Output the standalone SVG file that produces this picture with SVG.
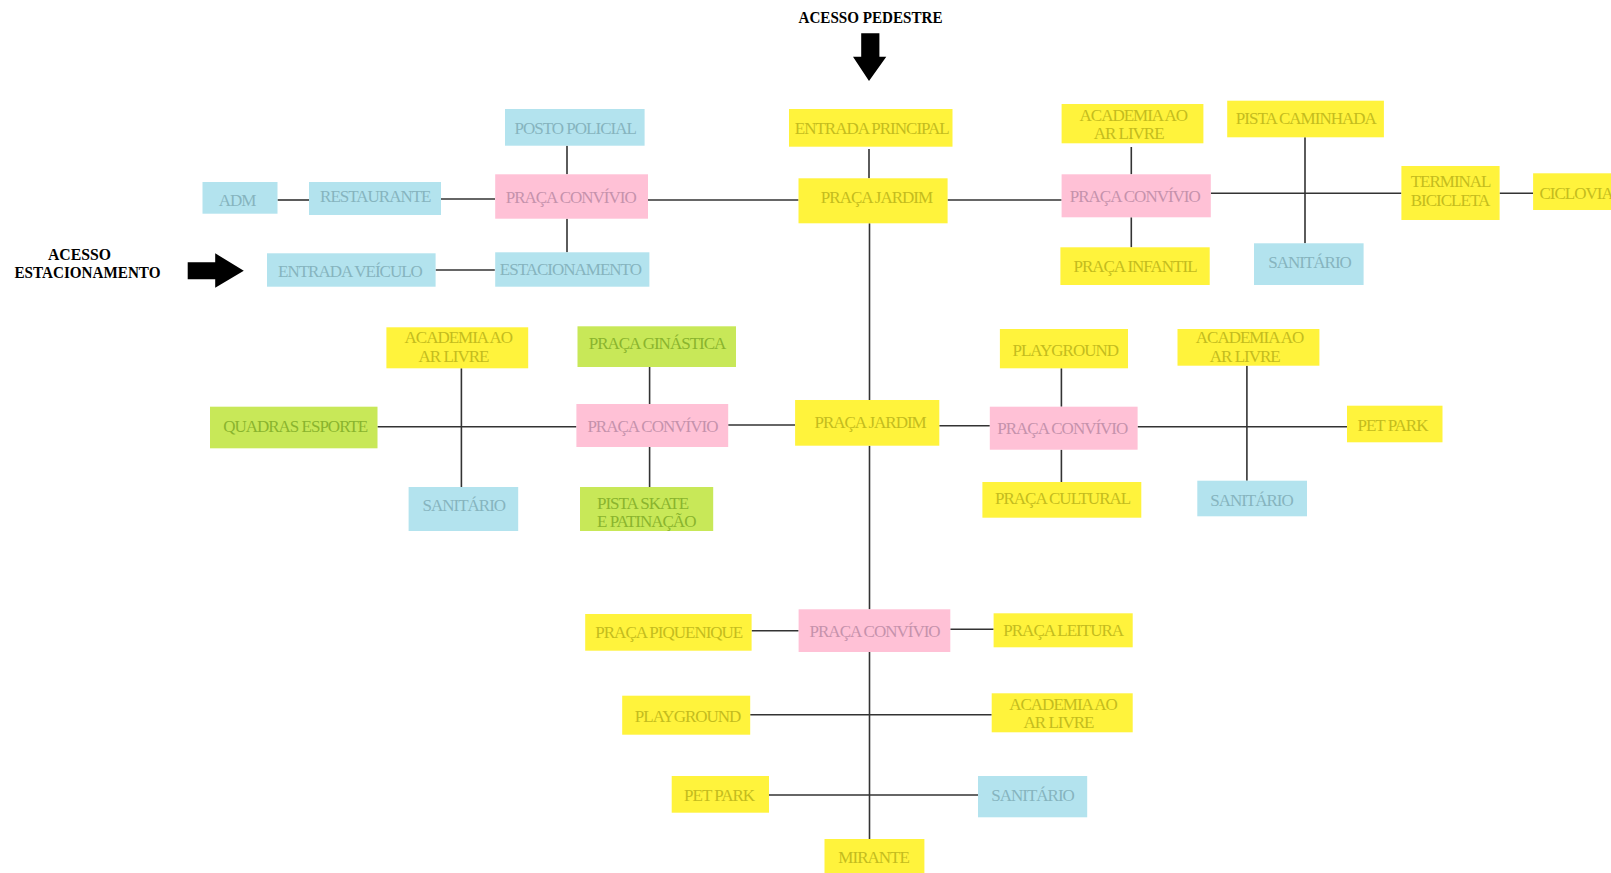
<svg xmlns="http://www.w3.org/2000/svg" width="1611" height="873" viewBox="0 0 1611 873">
<style>
.b{fill:#B3E3EE}.y{fill:#FFF33C}.p{fill:#FFC1D6}.g{fill:#C8E858}
text{font-family:"Liberation Serif","Times New Roman",serif;font-size:17px;letter-spacing:-1px;text-anchor:middle}
.tb{fill:#86B4BE}.ty{fill:#C4BC1E}.tp{fill:#C592AC}.tg{fill:#8AB42E}
.lbl{font-weight:bold;fill:#000;letter-spacing:0}
.c line{stroke:#333;stroke-width:1.6}
</style>
<rect width="1611" height="873" fill="#fff"/>
<g id="labels">
<text class="lbl" x="870.5" y="22.7" textLength="144" lengthAdjust="spacingAndGlyphs">ACESSO PEDESTRE</text>
<text class="lbl" x="79.5" y="260" textLength="63" lengthAdjust="spacingAndGlyphs">ACESSO</text>
<text class="lbl" x="87.5" y="278.3" textLength="146" lengthAdjust="spacingAndGlyphs">ESTACIONAMENTO</text>
<polygon points="861.2,33.3 879.4,33.3 879.4,56.7 886.3,56.7 869,81 853,56.7 861.2,56.7" fill="#000"/>
<polygon points="187.7,262.3 215.2,262.3 215.2,253.3 243.8,270.7 215.2,287.7 215.2,279.3 187.7,279.3" fill="#000"/>
</g>
<g class="c" id="connectors">
<line x1="277.5" y1="200" x2="309" y2="200"/>
<line x1="441" y1="199" x2="495" y2="199"/>
<line x1="567" y1="145.7" x2="567" y2="174.3"/>
<line x1="567" y1="218.7" x2="567" y2="252.3"/>
<line x1="435.6" y1="270" x2="494.8" y2="270"/>
<line x1="648" y1="200" x2="798.5" y2="200"/>
<line x1="869" y1="149" x2="869" y2="178.3"/>
<line x1="947.6" y1="200" x2="1061.6" y2="200"/>
<line x1="1131.3" y1="147" x2="1131.3" y2="174.3"/>
<line x1="1131.3" y1="217.3" x2="1131.3" y2="247.3"/>
<line x1="1210.8" y1="193.3" x2="1401.4" y2="193.3"/>
<line x1="1305" y1="137.3" x2="1305" y2="243.3"/>
<line x1="1499.6" y1="193.3" x2="1533.1" y2="193.3"/>
<line x1="869.5" y1="223.3" x2="869.5" y2="400"/>
<line x1="869.5" y1="445.7" x2="869.5" y2="609.3"/>
<line x1="869.5" y1="652" x2="869.5" y2="839"/>
<line x1="728.2" y1="425" x2="795.1" y2="425"/>
<line x1="939.3" y1="425.7" x2="989.8" y2="425.7"/>
<line x1="377.5" y1="426.7" x2="576.4" y2="426.7"/>
<line x1="461.4" y1="368.3" x2="461.4" y2="487"/>
<line x1="649.6" y1="367" x2="649.6" y2="404"/>
<line x1="649.6" y1="447" x2="649.6" y2="487"/>
<line x1="1061.4" y1="368.3" x2="1061.4" y2="406.7"/>
<line x1="1061.4" y1="449.7" x2="1061.4" y2="482"/>
<line x1="1137.6" y1="426.7" x2="1347" y2="426.7"/>
<line x1="1246.9" y1="365.7" x2="1246.9" y2="480.7"/>
<line x1="751.6" y1="630.7" x2="798.6" y2="630.7"/>
<line x1="950.3" y1="629.3" x2="993.6" y2="629.3"/>
<line x1="750.2" y1="714.7" x2="991.7" y2="714.7"/>
<line x1="769" y1="795" x2="978" y2="795"/>
</g>
<g id="adm"><rect class="b" x="202.5" y="182" width="75" height="31.7"/><text class="tb" x="237" y="206">ADM</text></g>
<g id="restaurante"><rect class="b" x="309" y="182" width="132" height="33"/><text class="tb" x="375.3" y="202">RESTAURANTE</text></g>
<g id="posto-policial"><rect class="b" x="505" y="109" width="139.6" height="36.7"/><text class="tb" x="575.2" y="134">POSTO POLICIAL</text></g>
<g id="praca-convivio-1"><rect class="p" x="495.2" y="174.3" width="152.8" height="44.4"/><text class="tp" x="570.7" y="203.3">PRAÇA CONVÍVIO</text></g>
<g id="estacionamento"><rect class="b" x="495.2" y="252.3" width="154.2" height="34.4"/><text class="tb" x="570.4" y="275">ESTACIONAMENTO</text></g>
<g id="entrada-veiculo"><rect class="b" x="267" y="253.3" width="168.6" height="33.4"/><text class="tb" x="350" y="277.3">ENTRADA VEÍCULO</text></g>
<g id="entrada-principal"><rect class="y" x="789" y="109" width="163.5" height="37.7"/><text class="ty" x="871.7" y="134">ENTRADA PRINCIPAL</text></g>
<g id="praca-jardim-1"><rect class="y" x="798.5" y="178.3" width="149.1" height="45"/><text class="ty" x="876.5" y="203.3">PRAÇA JARDIM</text></g>
<g id="academia-1"><rect class="y" x="1061.6" y="104" width="141.8" height="39.3"/><text class="ty" x="1133.3" y="120.7">ACADEMIA AO</text><text class="ty" x="1128.6" y="139.3">AR LIVRE</text></g>
<g id="pista-caminhada"><rect class="y" x="1227.2" y="100.7" width="156.7" height="36.6"/><text class="ty" x="1305.8" y="124">PISTA CAMINHADA</text></g>
<g id="praca-convivio-2"><rect class="p" x="1061.6" y="174.3" width="149.2" height="43"/><text class="tp" x="1134.8" y="201.7">PRAÇA CONVÍVIO</text></g>
<g id="praca-infantil"><rect class="y" x="1060.4" y="247.3" width="149.3" height="37.7"/><text class="ty" x="1135" y="271.7">PRAÇA INFANTIL</text></g>
<g id="sanitario-1"><rect class="b" x="1254" y="243.3" width="109.6" height="41.7"/><text class="tb" x="1309.6" y="268.3">SANITÁRIO</text></g>
<g id="terminal-bicicleta"><rect class="y" x="1401.4" y="166" width="98.2" height="54"/><text class="ty" x="1450.6" y="187.3">TERMINAL</text><text class="ty" x="1450" y="206">BICICLETA</text></g>
<g id="ciclovia"><rect class="y" x="1533.1" y="173.3" width="78" height="36.7"/><text class="ty" x="1539.5" y="199" style="text-anchor:start">CICLOVIA</text></g>
<g id="academia-2"><rect class="y" x="386.4" y="327.3" width="141.8" height="41"/><text class="ty" x="458.3" y="343.3">ACADEMIA AO</text><text class="ty" x="453.5" y="361.7">AR LIVRE</text></g>
<g id="quadras-esporte"><rect class="g" x="210" y="406.7" width="167.5" height="41.6"/><text class="tg" x="295.2" y="432.3">QUADRAS ESPORTE</text></g>
<g id="sanitario-2"><rect class="b" x="408.6" y="487" width="109.6" height="44"/><text class="tb" x="463.8" y="510.7">SANITÁRIO</text></g>
<g id="praca-ginastica"><rect class="g" x="577.5" y="326.3" width="158.5" height="40.7"/><text class="tg" x="657" y="349.3">PRAÇA GINÁSTICA</text></g>
<g id="praca-convivio-3"><rect class="p" x="576.4" y="404" width="151.8" height="43"/><text class="tp" x="652.4" y="431.7">PRAÇA CONVÍVIO</text></g>
<g id="pista-skate"><rect class="g" x="580" y="487" width="133.2" height="44"/><text class="tg" x="597" y="509" style="text-anchor:start">PISTA SKATE</text><text class="tg" x="597" y="526.7" style="text-anchor:start">E PATINAÇÃO</text></g>
<g id="praca-jardim-2"><rect class="y" x="795.1" y="400" width="144.2" height="45.7"/><text class="ty" x="870.1" y="428.3">PRAÇA JARDIM</text></g>
<g id="playground-1"><rect class="y" x="999.9" y="329" width="128.1" height="39.3"/><text class="ty" x="1065.3" y="356">PLAYGROUND</text></g>
<g id="praca-convivio-4"><rect class="p" x="989.8" y="406.7" width="147.8" height="43"/><text class="tp" x="1062.3" y="434.3">PRAÇA CONVÍVIO</text></g>
<g id="praca-cultural"><rect class="y" x="982.4" y="482" width="158.9" height="35.7"/><text class="ty" x="1062.6" y="504">PRAÇA CULTURAL</text></g>
<g id="academia-3"><rect class="y" x="1177.5" y="329" width="141.9" height="36.7"/><text class="ty" x="1249.6" y="343.3">ACADEMIA AO</text><text class="ty" x="1244.8" y="361.7">AR LIVRE</text></g>
<g id="sanitario-3"><rect class="b" x="1197.3" y="480.7" width="109.7" height="35.6"/><text class="tb" x="1251.5" y="505.7">SANITÁRIO</text></g>
<g id="pet-park-1"><rect class="y" x="1347" y="405.7" width="95.5" height="36.6"/><text class="ty" x="1392.5" y="430.7">PET PARK</text></g>
<g id="praca-convivio-5"><rect class="p" x="798.6" y="609.3" width="151.7" height="42.7"/><text class="tp" x="874.6" y="636.7">PRAÇA CONVÍVIO</text></g>
<g id="praca-piquenique"><rect class="y" x="585.2" y="614" width="166.4" height="36.7"/><text class="ty" x="668.8" y="638.3">PRAÇA PIQUENIQUE</text></g>
<g id="praca-leitura"><rect class="y" x="993.6" y="613.3" width="139.1" height="34"/><text class="ty" x="1063.2" y="636">PRAÇA LEITURA</text></g>
<g id="playground-2"><rect class="y" x="622.2" y="695.7" width="128" height="39"/><text class="ty" x="687.6" y="722.3">PLAYGROUND</text></g>
<g id="academia-4"><rect class="y" x="991.7" y="693.3" width="141" height="39"/><text class="ty" x="1063" y="710">ACADEMIA AO</text><text class="ty" x="1058.5" y="728.3">AR LIVRE</text></g>
<g id="pet-park-2"><rect class="y" x="671.7" y="776" width="97.3" height="36.7"/><text class="ty" x="719.1" y="801">PET PARK</text></g>
<g id="sanitario-4"><rect class="b" x="978" y="776" width="109.2" height="41.3"/><text class="tb" x="1032.6" y="801">SANITÁRIO</text></g>
<g id="mirante"><rect class="y" x="824.5" y="839" width="99.9" height="34"/><text class="ty" x="873.6" y="863.3">MIRANTE</text></g>
</svg>
